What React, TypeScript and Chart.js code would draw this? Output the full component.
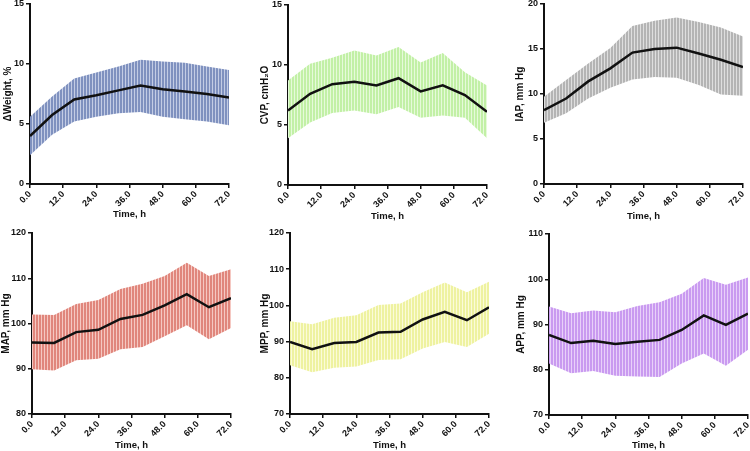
import React, { useEffect, useRef } from 'react';
import { Chart, registerables } from 'chart.js';
Chart.register(...registerables);

// ---------- data ----------
const hours = [0, 8, 16, 24, 32, 40, 48, 56, 64, 72];
const xTickStep = 12;

const weightMean = [4.0, 5.75, 7.05, 7.4, 7.8, 8.2, 7.9, 7.7, 7.5, 7.2];
const weightUpper = [5.6, 7.3, 8.8, 9.3, 9.8, 10.35, 10.2, 10.1, 9.8, 9.5];
const weightLower = [2.4, 4.1, 5.2, 5.6, 5.9, 6.0, 5.6, 5.4, 5.2, 4.9];

const cvpMean = [6.2, 7.6, 8.4, 8.6, 8.3, 8.9, 7.8, 8.3, 7.5, 6.1];
const cvpUpper = [8.7, 10.1, 10.6, 11.2, 10.8, 11.5, 10.2, 11.0, 9.4, 8.3];
const cvpLower = [3.9, 5.2, 6.0, 6.2, 5.9, 6.5, 5.6, 5.8, 5.6, 3.9];

const iapMean = [8.2, 9.5, 11.4, 12.85, 14.6, 15.0, 15.15, 14.5, 13.8, 13.0];
const iapUpper = [9.7, 11.55, 13.4, 15.1, 17.55, 18.15, 18.5, 18.0, 17.4, 16.4];
const iapLower = [6.8, 7.85, 9.5, 10.7, 11.6, 11.9, 11.8, 11.0, 9.95, 9.8];

const mapMean = [95.8, 95.7, 98.1, 98.6, 101.0, 101.9, 104.0, 106.5, 103.6, 105.6];
const mapUpper = [102.0, 101.9, 104.3, 105.2, 107.6, 108.8, 110.5, 113.4, 110.5, 112.0];
const mapLower = [89.9, 89.6, 91.9, 92.2, 94.3, 94.8, 97.2, 99.6, 96.5, 99.0];

const mppMean = [89.9, 87.9, 89.6, 89.9, 92.5, 92.7, 96.1, 98.2, 95.9, 99.5];
const mppUpper = [95.6, 94.8, 96.6, 97.3, 100.1, 100.5, 103.6, 106.3, 103.6, 106.5];
const mppLower = [83.5, 81.5, 82.8, 83.1, 84.9, 85.1, 88.1, 89.9, 88.5, 92.2];

const appMean = [87.7, 85.9, 86.4, 85.7, 86.2, 86.6, 88.8, 92.0, 89.9, 92.4];
const appUpper = [94.0, 92.5, 93.1, 92.7, 94.1, 94.9, 96.8, 100.3, 98.8, 100.4];
const appLower = [81.4, 79.2, 79.7, 78.7, 78.5, 78.4, 81.4, 83.6, 80.9, 84.4];

const yTitles = ['ΔWeight, %', 'CVP, cmH\u2082O', 'IAP, mm Hg', 'MAP, mm Hg', 'MPP, mm Hg', 'APP, mm Hg'];
const yMins = [0, 0, 0, 80, 70, 70];
const yMaxs = [15, 15, 20, 120, 120, 110];
const ySteps = [5, 5, 5, 10, 10, 10];
const xTitle = 'Time, h';

// ---------- layout / style ----------
const FONT = "'Liberation Sans', Arial, Helvetica, sans-serif";

type Panel = {
  mean: number[]; upper: number[]; lower: number[];
  dark: string; light: string;
  left: number; top: number; w: number; h: number;
  areaLeft: number; areaTop: number; areaRight: number; areaBottom: number;
  yTitleX: number; xTitleFromBottom: number;
};

const panels: Panel[] = [
  { mean: weightMean, upper: weightUpper, lower: weightLower, dark: '#7F91BF', light: '#C3CCE4',
    left: 0, top: 0, w: 250, h: 225, areaLeft: 30, areaTop: 4, areaRight: 229, areaBottom: 184, yTitleX: 8, xTitleFromBottom: 11 },
  { mean: cvpMean, upper: cvpUpper, lower: cvpLower, dark: '#C2F0A6', light: '#E6FADA',
    left: 250, top: 0, w: 250, h: 225, areaLeft: 38, areaTop: 5, areaRight: 237, areaBottom: 185, yTitleX: 15, xTitleFromBottom: 9 },
  { mean: iapMean, upper: iapUpper, lower: iapLower, dark: '#B4B4B4', light: '#DEDEDE',
    left: 500, top: 0, w: 250, h: 225, areaLeft: 44, areaTop: 4, areaRight: 243, areaBottom: 184, yTitleX: 20, xTitleFromBottom: 9 },
  { mean: mapMean, upper: mapUpper, lower: mapLower, dark: '#E0867C', light: '#F5C8C2',
    left: 0, top: 225, w: 250, h: 226, areaLeft: 32, areaTop: 8, areaRight: 231, areaBottom: 189, yTitleX: 5, xTitleFromBottom: 6 },
  { mean: mppMean, upper: mppUpper, lower: mppLower, dark: '#EEF2A0', light: '#FBFBD8',
    left: 250, top: 225, w: 250, h: 226, areaLeft: 40, areaTop: 8, areaRight: 239, areaBottom: 189, yTitleX: 15, xTitleFromBottom: 6 },
  { mean: appMean, upper: appUpper, lower: appLower, dark: '#C99AF0', light: '#E8D0F9',
    left: 500, top: 225, w: 250, h: 226, areaLeft: 49, areaTop: 9, areaRight: 248, areaBottom: 190, yTitleX: 21, xTitleFromBottom: 6 },
];

function makePattern(dark: string, light: string): CanvasPattern | string {
  const c = document.createElement('canvas');
  c.width = 3; c.height = 1;
  const g = c.getContext('2d');
  if (!g) return dark;
  g.fillStyle = dark; g.fillRect(0, 0, 2, 1);
  g.fillStyle = light; g.fillRect(2, 0, 1, 1);
  return g.createPattern(c, 'repeat') || dark;
}

function PanelChart({ p, idx }: { p: Panel; idx: number }) {
  const ref = useRef<HTMLCanvasElement>(null);
  useEffect(() => {
    if (!ref.current) return;
    const pattern = makePattern(p.dark, p.light);
    const tickFont = { family: FONT, size: 9, weight: 'bold' as const };
    const xTitleFont = { family: FONT, size: 9.5, weight: 'bold' as const, lineHeight: 1.2 };
    const yTitleFont = { family: FONT, size: 10, weight: 'bold' as const, lineHeight: 1.2 };
    const chart = new Chart(ref.current, {
      type: 'line',
      data: {
        datasets: [
          { data: hours.map((x, i) => ({ x, y: p.mean[i] })), borderColor: '#111', borderWidth: 2.5,
            pointRadius: 0, fill: false, tension: 0 },
          { data: hours.map((x, i) => ({ x, y: p.upper[i] })), borderWidth: 0, borderColor: 'rgba(0,0,0,0)',
            pointRadius: 0, fill: '+1', backgroundColor: pattern as any, tension: 0 },
          { data: hours.map((x, i) => ({ x, y: p.lower[i] })), borderWidth: 0, borderColor: 'rgba(0,0,0,0)',
            pointRadius: 0, fill: false, tension: 0 },
        ],
      },
      options: {
        animation: false,
        responsive: false,
        events: [],
        layout: { padding: { left: 0, top: p.areaTop, right: p.w - p.areaRight, bottom: 0 } },
        plugins: { legend: { display: false }, tooltip: { enabled: false } },
        scales: {
          x: {
            type: 'linear', min: 0, max: 72,
            afterFit: (s: any) => { s.height = p.h - p.areaBottom; s.paddingLeft = 0; s.paddingRight = 0; },
            ticks: { stepSize: xTickStep, autoSkip: false, minRotation: 45, maxRotation: 45,
              color: '#111', font: tickFont, padding: 1,
              callback: (v: any) => Number(v).toFixed(1) },
            grid: { display: true, drawOnChartArea: false, drawTicks: true, tickLength: 4, color: '#111', lineWidth: 1.5 },
            border: { display: true, color: '#111', width: 2 },
            title: { display: true, text: xTitle, color: '#111', font: xTitleFont,
              padding: { top: 0, bottom: Math.max(0, p.xTitleFromBottom - 9.5 * 0.6) } },
          },
          y: {
            type: 'linear', min: yMins[idx], max: yMaxs[idx],
            afterFit: (s: any) => { s.width = p.areaLeft; s.paddingTop = 0; s.paddingBottom = 0; },
            ticks: { stepSize: ySteps[idx], color: '#111', font: tickFont, padding: 2 },
            grid: { display: true, drawOnChartArea: false, drawTicks: true, tickLength: 4, color: '#111', lineWidth: 1.5 },
            border: { display: true, color: '#111', width: 2 },
            title: { display: true, text: yTitles[idx], color: '#111', font: yTitleFont,
              padding: { top: Math.max(0, p.yTitleX - 6), bottom: 0 } },
          },
        },
      },
    } as any);
    return () => chart.destroy();
  }, []);
  return (
    <canvas ref={ref} width={p.w} height={p.h}
      style={{ position: 'absolute', left: p.left, top: p.top, width: p.w, height: p.h }} />
  );
}

export default function App() {
  return (
    <div style={{ position: 'absolute', left: 0, top: 0, width: 750, height: 451, background: '#fff' }}>
      {panels.map((p, i) => <PanelChart key={i} p={p} idx={i} />)}
    </div>
  );
}
